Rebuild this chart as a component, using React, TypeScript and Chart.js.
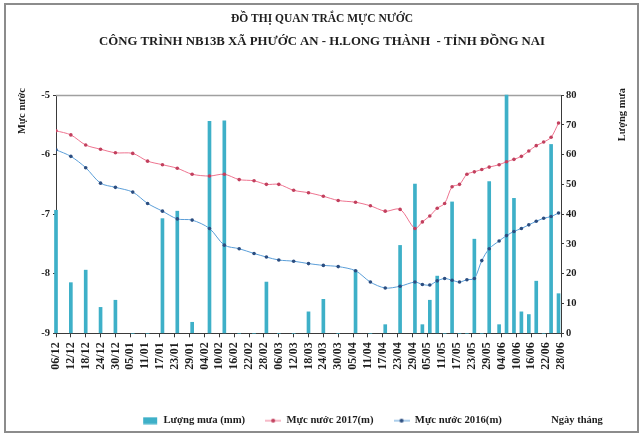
import React, { useEffect, useRef } from 'react';
import { Chart, registerables } from 'chart.js';

Chart.register(...registerables);

// ---------- data ----------
const titleLine1 = 'ĐỒ THỊ QUAN TRẮC MỰC NƯỚC';
const titleLine2 = 'CÔNG TRÌNH NB13B XÃ PHƯỚC AN - H.LONG THÀNH  - TỈNH ĐỒNG NAI';
const leftAxisTitle = 'Mực nước';
const rightAxisTitle = 'Lượng mưa';
const xAxisTitle = 'Ngày tháng';
const seriesNames = ['Lượng mưa (mm)', 'Mực nước 2017(m)', 'Mực nước 2016(m)'];

// axis: 06/12 -> 28/06, a label every 6 days
const axisStart = '06/12';
const axisEnd = '28/06';
const tickStepDays = 6;
const leftTicks = { min: -9, max: -5, step: 1 };
const rightTicks = { min: 0, max: 80, step: 10 };

const measureDates = [
  '06/12', '12/12', '18/12', '24/12', '30/12', '06/01', '12/01', '18/01', '24/01', '30/01',
  '06/02', '12/02', '18/02', '24/02', '01/03', '06/03', '12/03', '18/03', '24/03', '30/03',
  '06/04', '12/04', '18/04', '24/04', '30/04', '03/05', '06/05', '09/05', '12/05', '15/05',
  '18/05', '21/05', '24/05', '27/05', '30/05', '03/06', '06/06', '09/06', '12/06', '15/06',
  '18/06', '21/06', '24/06', '27/06',
];

const water2017 = [
  -5.60, -5.67, -5.84, -5.91, -5.97, -5.98, -6.11, -6.17, -6.23, -6.33,
  -6.36, -6.33, -6.42, -6.44, -6.50, -6.50, -6.60, -6.64, -6.70, -6.77,
  -6.80, -6.86, -6.95, -6.92, -7.24, -7.13, -7.03, -6.90, -6.82, -6.54,
  -6.50, -6.33, -6.29, -6.25, -6.21, -6.17, -6.12, -6.08, -6.03, -5.94,
  -5.85, -5.79, -5.71, -5.47,
];

const water2016 = [
  -5.92, -6.03, -6.22, -6.48, -6.55, -6.63, -6.82, -6.95, -7.08, -7.10,
  -7.24, -7.52, -7.58, -7.66, -7.72, -7.77, -7.79, -7.83, -7.86, -7.88,
  -7.95, -8.14, -8.24, -8.21, -8.14, -8.18, -8.19, -8.12, -8.08, -8.11,
  -8.14, -8.10, -8.08, -7.78, -7.58, -7.45, -7.36, -7.29, -7.24, -7.18,
  -7.12, -7.07, -7.04, -6.98,
];

const rainfall = [
  41.3, 17, 21.2, 8.7, 11.1, 0, 0, 38.5, 41, 3.7,
  71.2, 71.3, 0, 0, 17.2, 0, 0, 7.2, 11.4, 0,
  21.2, 0, 2.9, 29.5, 50.1, 2.9, 11.1, 19.2, 0, 44.1,
  0, 0, 31.6, 0, 50.9, 2.9, 80, 45.3, 7.2, 6.3,
  17.5, 0, 63.4, 13.3,
];

// ---------- helpers ----------
const DAY = 86400000;
function toUTC(label: string): number {
  const [d, m] = label.split('/').map(Number);
  const year = m === 12 ? 2016 : 2017;
  return Date.UTC(year, m - 1, d);
}
const baseUTC = toUTC(axisStart);
function dayOffset(label: string): number {
  return Math.round((toUTC(label) - baseUTC) / DAY);
}
function dayLabel(off: number): string {
  const dt = new Date(baseUTC + Math.round(off) * DAY);
  const dd = String(dt.getUTCDate()).padStart(2, '0');
  const mm = String(dt.getUTCMonth() + 1).padStart(2, '0');
  return dd + '/' + mm;
}

const FONT = "'Liberation Serif', 'Times New Roman', serif";
const BAR_COLOR = '#3eb0c8';
const RED_LINE = '#ee7490';
const RED_MARK = '#c2405e';
const BLUE_LINE = '#5a9ed8';
const BLUE_MARK = '#2b4d80';
const AXIS_COLOR = '#3a3a3a';
const TEXT_COLOR = '#1e1e1e';

function makeSwatch(kind: 'box' | 'line', color: string, mark?: string): HTMLCanvasElement {
  const c = document.createElement('canvas');
  c.width = 16;
  c.height = 8;
  const g = c.getContext('2d')!;
  if (kind === 'box') {
    g.fillStyle = color;
    g.fillRect(1, 0.5, 14, 7);
  } else {
    g.strokeStyle = color;
    g.lineWidth = 1;
    g.beginPath();
    g.moveTo(0, 4);
    g.lineTo(16, 4);
    g.stroke();
    g.fillStyle = mark || color;
    g.beginPath();
    g.arc(8, 4, 2, 0, Math.PI * 2);
    g.fill();
  }
  return c;
}

const decorPlugin = {
  id: 'decor',
  beforeDraw(chart: any) {
    const { ctx, width, height } = chart;
    ctx.save();
    ctx.fillStyle = '#ffffff';
    ctx.fillRect(0, 0, width, height);
    ctx.strokeStyle = '#8c8c8c';
    ctx.lineWidth = 2;
    ctx.strokeRect(5, 4, width - 11, height - 9);
    ctx.restore();
  },
  beforeDatasetsDraw(chart: any) {
    const { ctx, chartArea } = chart;
    ctx.save();
    ctx.strokeStyle = '#a0a0a0';
    ctx.lineWidth = 1.5;
    ctx.beginPath();
    ctx.moveTo(chartArea.left, chartArea.top + 0.5);
    ctx.lineTo(chartArea.right, chartArea.top + 0.5);
    ctx.stroke();
    ctx.restore();
  },
  afterDraw(chart: any) {
    const { ctx, chartArea } = chart;
    ctx.save();
    ctx.fillStyle = TEXT_COLOR;
    ctx.font = `bold 10.5px ${FONT}`;
    ctx.textBaseline = 'middle';
    ctx.textAlign = 'right';
    ctx.save();
    ctx.translate(22, chartArea.top - 7);
    ctx.rotate(-Math.PI / 2);
    ctx.fillText(leftAxisTitle, 0, 0);
    ctx.restore();
    ctx.save();
    ctx.translate(622, chartArea.top - 7);
    ctx.rotate(-Math.PI / 2);
    ctx.fillText(rightAxisTitle, 0, 0);
    ctx.restore();
    const legend = chart.legend;
    let ly = 420;
    if (legend && legend.legendHitBoxes && legend.legendHitBoxes.length) {
      const hb = legend.legendHitBoxes[0];
      ly = hb.top + hb.height / 2;
    }
    ctx.textAlign = 'center';
    ctx.font = `bold 10.5px ${FONT}`;
    ctx.fillText(xAxisTitle, 577, ly);
    ctx.restore();
  },
};

export default function App() {
  const canvasRef = useRef<HTMLCanvasElement | null>(null);

  useEffect(() => {
    const canvas = canvasRef.current;
    if (!canvas) return;
    const xs = measureDates.map(dayOffset);
    const swatches = [
      makeSwatch('box', BAR_COLOR),
      makeSwatch('line', RED_LINE, RED_MARK),
      makeSwatch('line', BLUE_LINE, BLUE_MARK),
    ];
    const tickFont = { family: FONT, size: 10.5, weight: 'bold' as const };

    const chart = new Chart(canvas, {
      type: 'bar',
      data: {
        datasets: [
          {
            type: 'bar',
            label: seriesNames[0],
            data: xs.map((x, i) => ({ x, y: rainfall[i] })),
            yAxisID: 'y1',
            backgroundColor: BAR_COLOR,
            borderWidth: 0,
            barThickness: 3,
            order: 3,
            clip: false as any,
          },
          {
            type: 'line',
            label: seriesNames[1],
            data: xs.map((x, i) => ({ x, y: water2017[i] })),
            yAxisID: 'y',
            borderColor: RED_LINE,
            backgroundColor: RED_MARK,
            borderWidth: 1,
            pointRadius: 1.8,
            pointBackgroundColor: RED_MARK,
            pointBorderWidth: 0,
            tension: 0.3,
            order: 1,
          },
          {
            type: 'line',
            label: seriesNames[2],
            data: xs.map((x, i) => ({ x, y: water2016[i] })),
            yAxisID: 'y',
            borderColor: BLUE_LINE,
            backgroundColor: BLUE_MARK,
            borderWidth: 1,
            pointRadius: 1.8,
            pointBackgroundColor: BLUE_MARK,
            pointBorderWidth: 0,
            tension: 0.3,
            order: 2,
          },
        ],
      } as any,
      options: {
        animation: false,
        responsive: false,
        maintainAspectRatio: false,
        layout: { padding: { left: 0, right: 0, top: 0, bottom: 1 } },
        plugins: {
          title: {
            display: true,
            text: titleLine1,
            color: TEXT_COLOR,
            font: { family: FONT, size: 11.5, weight: 'bold', lineHeight: '23px' },
            padding: { top: 7.5, bottom: 0 },
          },
          subtitle: {
            display: true,
            text: titleLine2,
            color: TEXT_COLOR,
            font: { family: FONT, size: 12.8, weight: 'bold', lineHeight: '23px' },
            padding: { top: 0, bottom: 41.5 },
          },
          legend: {
            position: 'bottom',
            labels: {
              usePointStyle: true,
              pointStyleWidth: 16,
              padding: 20,
              color: TEXT_COLOR,
              font: { family: FONT, size: 10.7, weight: 'bold' },
              sort: (a: any, b: any) => a.datasetIndex - b.datasetIndex,
              generateLabels: (c: any) => {
                const items = (Chart.defaults.plugins.legend.labels as any).generateLabels(c);
                items.forEach((it: any, i: number) => {
                  it.pointStyle = swatches[it.datasetIndex ?? i];
                });
                return items;
              },
            },
          },
          tooltip: { enabled: false },
        },
        scales: {
          x: {
            type: 'linear',
            min: 0,
            max: dayOffset(axisEnd),
            offset: false,
            ticks: {
              stepSize: tickStepDays,
              autoSkip: false,
              maxRotation: 90,
              minRotation: 90,
              padding: 5,
              color: TEXT_COLOR,
              font: { family: FONT, size: 12, weight: 'bold' },
              callback: (v: any) => dayLabel(Number(v)),
            },
            grid: { drawOnChartArea: false, tickLength: 4, color: AXIS_COLOR, offset: false },
            border: { display: true, color: AXIS_COLOR, width: 1 },
            afterFit: (s: any) => {
              s.height = 62;
            },
          },
          y: {
            type: 'linear',
            position: 'left',
            min: leftTicks.min,
            max: leftTicks.max,
            ticks: { stepSize: leftTicks.step, padding: 3, color: TEXT_COLOR, font: tickFont },
            grid: { drawOnChartArea: false, tickLength: 3, color: AXIS_COLOR },
            border: { display: true, color: AXIS_COLOR, width: 1 },
            afterFit: (s: any) => {
              s.width = 56;
            },
          },
          y1: {
            type: 'linear',
            position: 'right',
            min: rightTicks.min,
            max: rightTicks.max,
            ticks: { stepSize: rightTicks.step, padding: 2, color: TEXT_COLOR, font: tickFont },
            grid: { drawOnChartArea: false, tickLength: 3, color: AXIS_COLOR },
            border: { display: true, color: AXIS_COLOR, width: 1 },
            afterFit: (s: any) => {
              s.width = 83;
            },
          },
        },
      } as any,
      plugins: [decorPlugin],
    });

    return () => chart.destroy();
  }, []);

  return (
    <div style={{ position: 'fixed', left: 0, top: 0, width: 644, height: 437, background: '#fff' }}>
      <canvas ref={canvasRef} width={644} height={437} style={{ display: 'block' }} />
    </div>
  );
}
